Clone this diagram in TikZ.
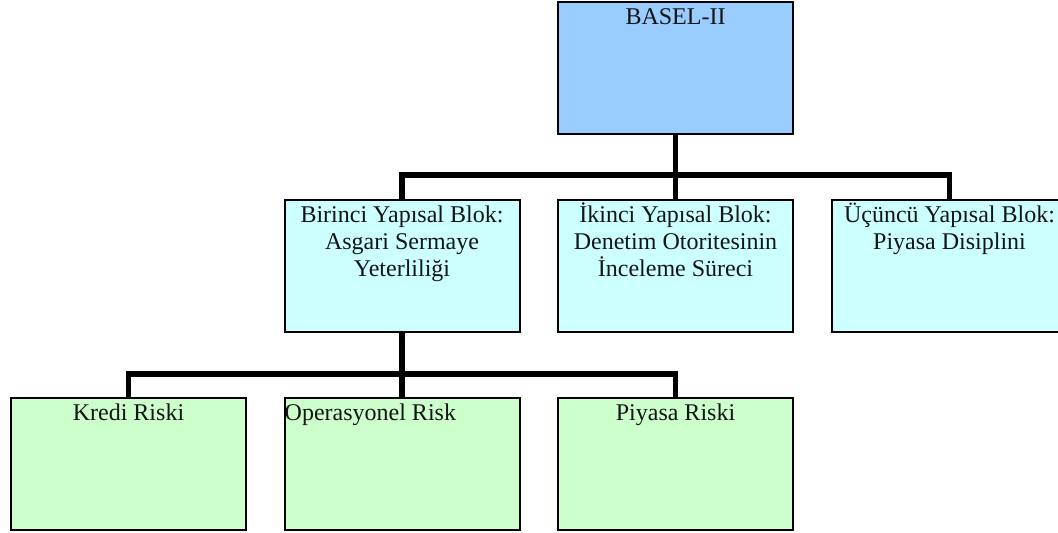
\documentclass[tikz,border=0pt]{standalone}
\usepackage{fontspec}
\setmainfont{Liberation Serif}
\usetikzlibrary{backgrounds}
\definecolor{topblue}{HTML}{99CCFF}
\definecolor{midcyan}{HTML}{CCFFFF}
\definecolor{lowgreen}{HTML}{CCFFCC}
\begin{document}
\begin{tikzpicture}[x=1pt,y=-1pt,
  box/.style={draw=black,line width=2pt,minimum width=235pt,minimum height=132pt,inner sep=0pt},
  conn/.style={draw=black,line width=5.5pt,line cap=rect},
  txt/.style={anchor=base,inner sep=0pt,font=\fontsize{24}{27}\selectfont,text=black!92}]
\useasboundingbox (0,0) rectangle (1058,533);
\clip (0,0) rectangle (1058,533);
% level 1
\node[box,fill=topblue] (top) at (675.5,68) {};
% level 2
\node[box,fill=midcyan] (b1) at (402,266) {};
\node[box,fill=midcyan] (b2) at (675.5,266) {};
\node[box,fill=midcyan] (b3) at (949.5,266) {};
% level 3
\node[box,fill=lowgreen] (c1) at (128.5,464) {};
\node[box,fill=lowgreen] (c2) at (402,464) {};
\node[box,fill=lowgreen] (c3) at (675.5,464) {};
% junction levels
\coordinate (j1) at (0,175);
\coordinate (j2) at (0,374);
% connectors
\begin{scope}[on background layer]
\draw[conn] (top.south) -- (top.south |- j1);
\draw[conn] (b1.north) -- (b1.north |- j1) -- (b3.north |- j1) -- (b3.north);
\draw[conn] (b2.north) -- (b2.north |- j1);
\draw[conn] (b1.south) -- (b1.south |- j2);
\draw[conn] (c1.north) -- (c1.north |- j2) -- (c3.north |- j2) -- (c3.north);
\draw[conn] (c2.north) -- (c2.north |- j2);
\end{scope}
% texts
\node[txt] (t0) at ([yshift=-23pt]top.north) {BASEL-II};
\node[txt] (t11) at ([yshift=-23pt]b1.north) {Birinci Yapısal Blok:};
\node[txt] (t12) at ([yshift=-50pt]b1.north) {Asgari Sermaye};
\node[txt] (t13) at ([yshift=-77pt]b1.north) {Yeterliliği};
\node[txt] (t21) at ([yshift=-23pt]b2.north) {İkinci Yapısal Blok:};
\node[txt] (t22) at ([yshift=-50pt]b2.north) {Denetim Otoritesinin};
\node[txt] (t23) at ([yshift=-77pt]b2.north) {İnceleme Süreci};
\node[txt] (t31) at ([yshift=-23pt]b3.north) {Üçüncü Yapısal Blok:};
\node[txt] (t32) at ([yshift=-50pt]b3.north) {Piyasa Disiplini};
\node[txt] (u1) at ([yshift=-23pt]c1.north) {Kredi Riski};
\node[txt,anchor=base west] (u2) at ([xshift=1pt,yshift=-23pt]c2.north west) {Operasyonel Risk};
\node[txt] (u3) at ([yshift=-23pt]c3.north) {Piyasa Riski};
\end{tikzpicture}
\end{document}
